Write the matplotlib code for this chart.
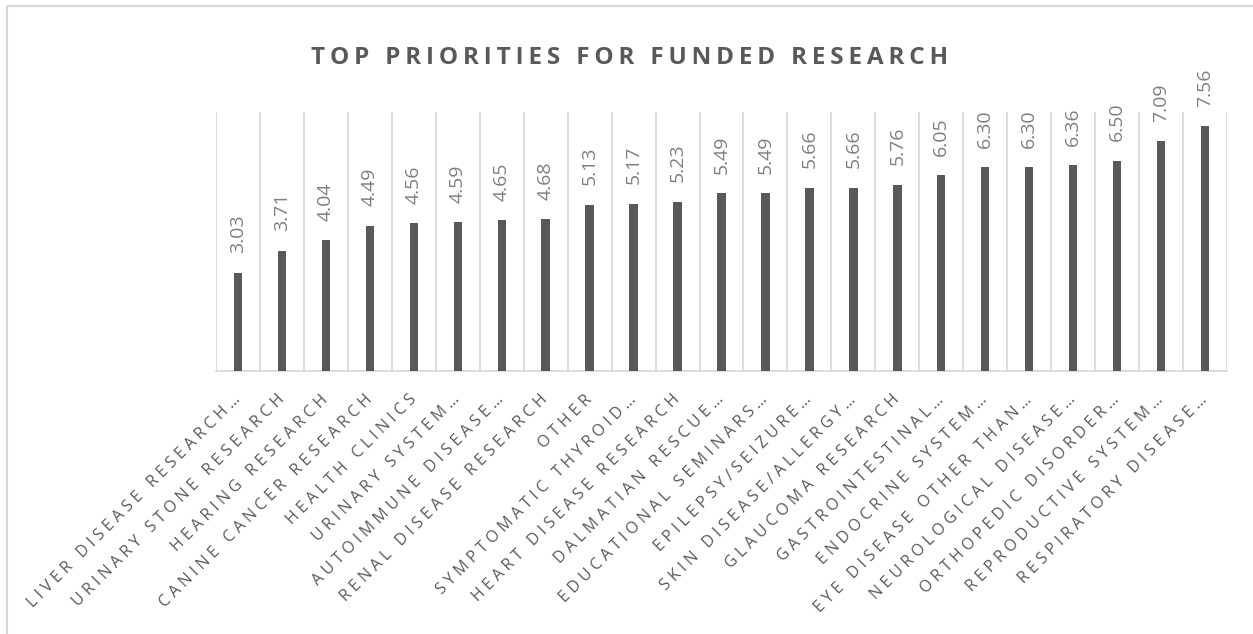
import matplotlib
matplotlib.use('Agg')
import matplotlib.pyplot as plt
from matplotlib.patches import Rectangle
import numpy as np

plt.rcParams['font.family'] = ['Open Sans', 'DejaVu Sans']

TITLE = 'TOP PRIORITIES FOR FUNDED RESEARCH'

categories = [
    'LIVER DISEASE RESEARCH…',
    'URINARY STONE RESEARCH',
    'HEARING RESEARCH',
    'CANINE CANCER RESEARCH',
    'HEALTH CLINICS',
    'URINARY SYSTEM…',
    'AUTOIMMUNE DISEASE…',
    'RENAL DISEASE RESEARCH',
    'OTHER',
    'SYMPTOMATIC THYROID…',
    'HEART DISEASE RESEARCH',
    'DALMATIAN RESCUE…',
    'EDUCATIONAL SEMINARS…',
    'EPILEPSY/SEIZURE…',
    'SKIN DISEASE/ALLERGY…',
    'GLAUCOMA RESEARCH',
    'GASTROINTESTINAL…',
    'ENDOCRINE SYSTEM…',
    'EYE DISEASE OTHER THAN…',
    'NEUROLOGICAL DISEASE…',
    'ORTHOPEDIC DISORDER…',
    'REPRODUCTIVE SYSTEM…',
    'RESPIRATORY DISEASE…',
]
scores = [3.03, 3.71, 4.04, 4.49, 4.56, 4.59, 4.65, 4.68, 5.13, 5.17, 5.23,
          5.49, 5.49, 5.66, 5.66, 5.76, 6.05, 6.30, 6.30, 6.36, 6.50, 7.09, 7.56]

BAR = '#595959'
GRID = '#d9d9d9'
TEXT = '#595959'
VALUE = '#7f7f7f'


def spaced(s, sep='\u2009'):
    # rough stand-in for the letter spacing in the original
    return sep.join(s)


W, H = 1253, 634
fig = plt.figure(figsize=(W / 100, H / 100), dpi=100)
ax = fig.add_axes([216 / W, 1 - 371 / H, (1227 - 216) / W, (371 - 112) / H])

x = np.arange(len(categories))
ax.bar(x, scores, width=0.19, color=BAR, zorder=3)

# vertical gridlines between categories
ax.vlines(np.arange(-0.5, len(categories)), 0, 8, color=GRID, lw=1.3, zorder=1)

for xi, v in zip(x, scores):
    ax.annotate(f'{v:.2f}', (xi, v), xytext=(0, 14), textcoords='offset points',
                rotation=90, ha='center', va='bottom', fontsize=14, color=VALUE)

ax.set_xlim(-0.5, len(categories) - 0.5)
ax.set_ylim(0, 8)
ax.set_yticks([])
ax.set_xticks(x)
ax.set_xticklabels([spaced(c, '\u2009\u200a') for c in categories], rotation=45,
                   ha='right', va='center', rotation_mode='anchor',
                   fontsize=11.5, color=TEXT)
ax.tick_params(axis='x', length=0, pad=19)
for side in ('left', 'right', 'top'):
    ax.spines[side].set_visible(False)
ax.spines['bottom'].set_color(GRID)
ax.spines['bottom'].set_linewidth(1.3)

fig.text(630 / W, 1 - 58 / H, spaced(TITLE), ha='center', va='center',
         fontsize=17.5, fontweight='bold', color=TEXT)

# chart border
fig.patches.append(Rectangle((7 / W, -0.05), 1.2, 1 - 6 / H + 0.05,
                             transform=fig.transFigure, fill=False,
                             edgecolor=GRID, lw=1.5))

fig.savefig('out.png', dpi=100)
